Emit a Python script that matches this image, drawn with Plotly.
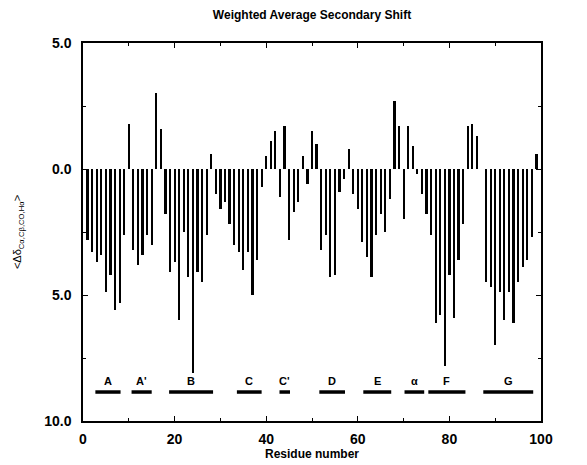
import plotly.graph_objects as go

residues = list(range(1, 100))
shift = [
    -2.8, -3.3, -3.7, -3.4, -4.9, -4.2, -5.6, -5.3, -2.6, 1.8,
    -3.2, -3.8, -3.4, -2.6, -3.0, 3.0, 1.6, -1.8, -4.1, -3.7,
    -6.0, -2.5, -4.3, -8.1, -4.1, -4.5, -2.6, 0.6, -1.0, -1.6,
    -1.3, -2.2, -3.0, -3.3, -4.0, -3.3, -5.0, -3.6, -0.7, 0.5,
    1.1, 1.5, -1.1, 1.7, -2.8, -1.7, -1.3, 0.5, -0.6, 1.5,
    1.0, -3.2, -2.6, -4.3, -4.2, -0.9, -0.4, 0.8, -1.0, -1.6,
    -2.9, -3.5, -4.3, -2.6, -1.8, -2.5, -1.2, 2.7, 1.7, -2.0,
    1.7, 0.9, -0.2, -1.0, -1.8, -2.6, -6.1, -5.8, -7.8, -4.2,
    -5.9, -3.6, -2.2, 1.7, 1.8, 1.3, 0.0, -4.5, -4.7, -7.0,
    -4.9, -6.0, -4.9, -6.1, -4.5, -3.9, -3.6, -2.7, 0.6,
]

seg_labels = ["A", "A'", "B", "C", "C'", "D", "E", "α", "F", "G"]
seg_start = [2.7, 10.6, 18.8, 33.6, 42.9, 51.6, 61.2, 70.2, 75.4, 87.4]
seg_end = [8.2, 15.0, 28.4, 39.0, 45.2, 57.2, 67.3, 74.5, 83.5, 98.3]
seg_level = -8.85
label_level = -8.74

y_tickvals = [5, 0, -5, -10]
y_ticktext = ["5.0", "0.0", "5.0", "10.0"]

font_fam = "Liberation Sans"
W, H = 579, 457

fig = go.Figure()
fig.add_trace(go.Bar(x=residues, y=shift, width=0.48,
                     marker=dict(color="black", line=dict(width=0)),
                     showlegend=False))

for lab, s, e in zip(seg_labels, seg_start, seg_end):
    fig.add_trace(go.Scatter(x=[s, e], y=[seg_level, seg_level], mode="lines",
                             line=dict(color="black", width=3.5), showlegend=False,
                             hoverinfo="skip"))
    fig.add_annotation(x=(s + e) / 2, y=label_level, text=f"<b>{lab}</b>",
                       showarrow=False, yanchor="bottom",
                       font=dict(family=font_fam, size=11, color="black"))

fig.update_layout(
    width=W, height=H,
    margin=dict(l=75, r=46, t=35, b=44, autoexpand=False),
    paper_bgcolor="white", plot_bgcolor="white",
    bargap=0,
    title=dict(text="<b>Weighted Average Secondary Shift</b>", x=(75 + 533) / 2 / W,
               xanchor="center", y=1 - 7 / H, yanchor="middle",
               font=dict(family=font_fam, size=12, color="black")),
    xaxis=dict(range=[0, 100], tickvals=[0, 20, 40, 60, 80, 100],
               ticktext=["<b>0</b>", "<b>20</b>", "<b>40</b>", "<b>60</b>", "<b>80</b>", "<b>100</b>"],
               ticks="inside", ticklen=5, tickwidth=1.2, tickcolor="black",
               minor=dict(dtick=10, ticks="inside", ticklen=3, tickcolor="black"),
               showline=True, linecolor="black", linewidth=1.5, mirror="ticks",
               showgrid=False, zeroline=False, automargin=False,
               ticklabelstandoff=4,
               tickfont=dict(family=font_fam, size=14, color="black"),
               title=dict(text="<b>Residue number</b>", standoff=0,
                          font=dict(family=font_fam, size=12, color="black"))),
    yaxis=dict(range=[-10, 5], tickvals=y_tickvals,
               ticktext=[f"<b>{t}</b>" for t in y_ticktext],
               ticks="inside", ticklen=5, tickwidth=1.2, tickcolor="black",
               minor=dict(dtick=2.5, ticks="inside", ticklen=3, tickcolor="black"),
               showline=True, linecolor="black", linewidth=1.5, mirror="ticks",
               showgrid=False, zeroline=False, automargin=False,
               ticklabelstandoff=7,
               tickfont=dict(family=font_fam, size=14, color="black"),
               title=dict(text="&lt;Δδ<sub>Cα,Cβ,CO,Hα</sub>&gt;", standoff=20,
                          font=dict(family=font_fam, size=11, color="black"))),
)

fig.write_html("out.html")
